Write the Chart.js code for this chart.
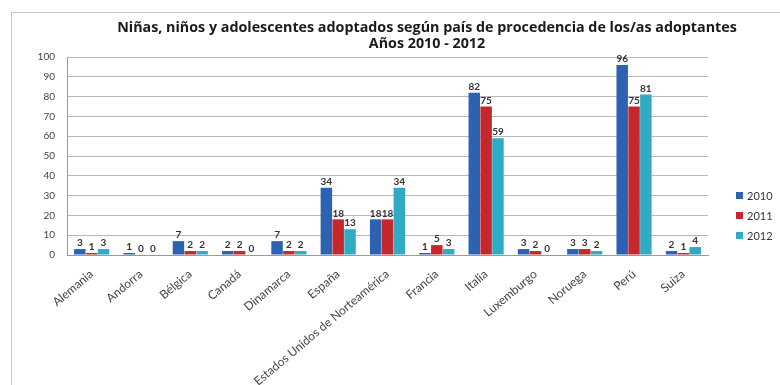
<!DOCTYPE html>
<html><head><meta charset="utf-8">
<script src="https://cdn.jsdelivr.net/npm/chart.js@4"></script>
<style>html,body{margin:0;padding:0;background:#fff;overflow:hidden}#wrap{width:780px;height:385px;position:relative}</style>
</head><body><div id="wrap"><canvas id="c" width="780" height="385"></canvas></div>
<script>
const categories = ["Alemania","Andorra","Bélgica","Canadá","Dinamarca","España","Estados Unidos de Norteamérica","Francia","Italia","Luxemburgo","Noruega","Perú","Suiza"];
const values2010 = [3,1,7,2,7,34,18,1,82,3,3,96,2];
const values2011 = [1,0,2,2,2,18,18,5,75,2,3,75,1];
const values2012 = [3,0,2,0,2,13,34,3,59,0,2,81,4];
const seriesNames = ["2010","2011","2012"];
const yTicks = [0,10,20,30,40,50,60,70,80,90,100];
const titleLines = ["Niñas, niños y adolescentes adoptados según país de procedencia de los/as adoptantes","Años 2010 - 2012"];

const colors = ["#2D62B3","#C5282C","#30ABC3"];
const light = ["#6A9AE0","#EE6B6B","#7FD9EA"];
const FONT = "Lato, 'Liberation Sans', sans-serif";
const TFONT = "'Open Sans', Lato, sans-serif";

function grad(i){
  return function(ctx){
    const el = ctx.element; const chart = ctx.chart;
    if(!el || !chart.chartArea) return colors[i];
    const x = el.x, w = el.width;
    if(!Number.isFinite(x) || !Number.isFinite(w) || w <= 0) return colors[i];
    const g = chart.ctx.createLinearGradient(x - w/2, 0, x + w/2, 0);
    g.addColorStop(0, colors[i]); g.addColorStop(0.35, light[i]); g.addColorStop(0.6, colors[i]); g.addColorStop(1, colors[i]);
    return g;
  };
}

const framePlugin = {
  id:'frame',
  beforeDraw(chart){
    const c = chart.ctx; c.save();
    c.strokeStyle = '#c8c8c8'; c.lineWidth = 1;
    c.strokeRect(11.5, 12.5, 900, 500);
    c.restore();
  },
  afterDraw(chart){
    const c = chart.ctx; c.save();
    c.fillStyle = '#1a1a1a'; c.textAlign = 'center'; c.textBaseline = 'middle';
    c.font = "bold 14.3px " + TFONT;
    c.fillText(titleLines[0], 427, 28);
    c.fillText(titleLines[1], 427, 44);
    c.font = "bold 10px " + FONT; c.fillStyle = '#333';
    c.textBaseline = 'bottom';
    chart.data.datasets.forEach((ds, di) => {
      const meta = chart.getDatasetMeta(di);
      meta.data.forEach((bar, j) => {
        c.fillText(String(ds.data[j]), bar.x, bar.y - 1);
      });
    });
    c.textAlign = 'left'; c.textBaseline = 'middle'; c.font = "11px " + FONT;
    const ys = [195, 215, 235];
    chart.data.datasets.forEach((ds, di) => {
      c.fillStyle = colors[di];
      c.fillRect(736, ys[di]-3, 7, 7);
      c.fillStyle = '#333';
      c.fillText(ds.label, 747, ys[di]+1);
    });
    c.restore();
  }
};

new Chart(document.getElementById('c'), {
  type:'bar',
  data:{
    labels: categories,
    datasets: [
      {label: seriesNames[0], data: values2010, backgroundColor: grad(0)},
      {label: seriesNames[1], data: values2011, backgroundColor: grad(1)},
      {label: seriesNames[2], data: values2012, backgroundColor: grad(2)}
    ]
  },
  options:{
    responsive:false, animation:false,
    layout:{padding:{top:57, right:72, left:0, bottom:0}},
    plugins:{legend:{display:false}, title:{display:false}, tooltip:{enabled:false}},
    datasets:{bar:{categoryPercentage:0.72, barPercentage:0.97}},
    scales:{
      x:{
        grid:{display:false, drawTicks:false},
        border:{display:true, color:'#999'},
        ticks:{maxRotation:40, minRotation:40, autoSkip:false, color:'#444', font:{family:FONT, size:12}, padding:12},
        afterFit(s){ s.height = 385 - 255; }
      },
      y:{
        min:0, max:100,
        afterBuildTicks(s){ s.ticks = yTicks.map(v => ({value:v})); },
        grid:{color:'#b8b8b8', drawTicks:false},
        border:{display:true, color:'#999'},
        ticks:{color:'#444', font:{family:FONT, size:10}, padding:12},
        afterFit(s){ s.width = 67; }
      }
    }
  },
  plugins:[framePlugin]
});
</script></body></html>
